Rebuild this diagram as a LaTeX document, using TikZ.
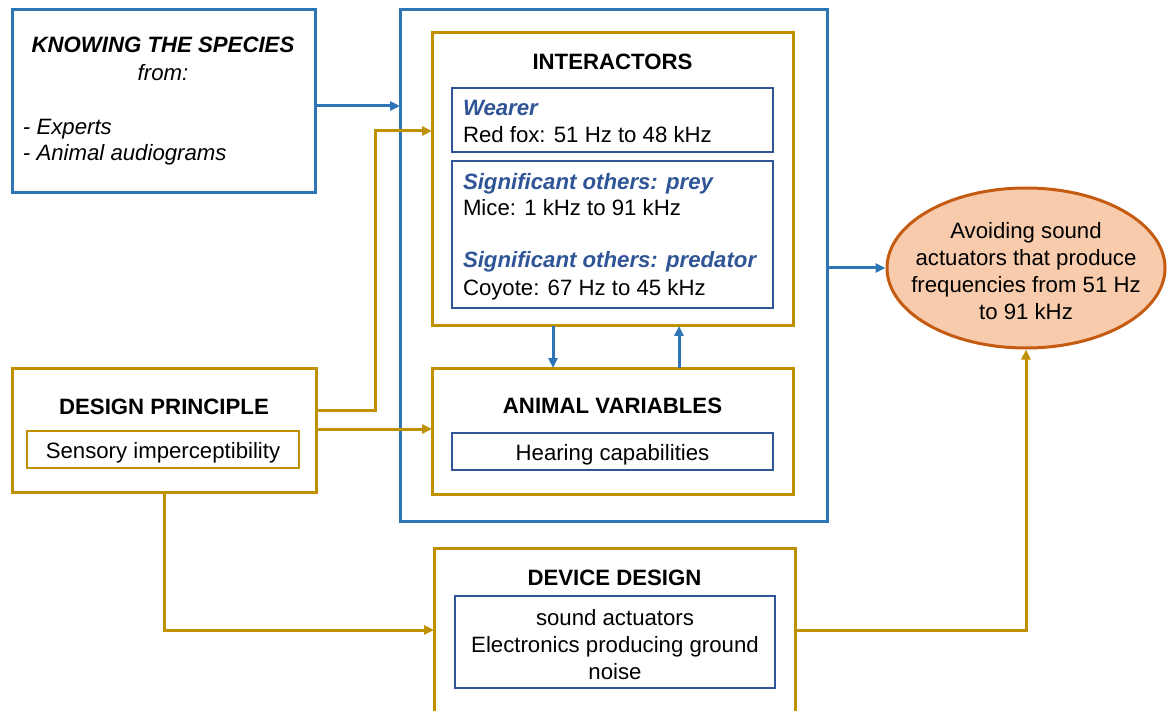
\documentclass[tikz,border=0pt]{standalone}
\usepackage{fontspec}
\setmainfont{Liberation Sans}
\usetikzlibrary{arrows.meta,shapes.geometric}
\definecolor{cblue}{HTML}{2E75B6}
\definecolor{cgold}{HTML}{BF9000}
\definecolor{cdblue}{HTML}{2F5597}
\definecolor{cpeach}{HTML}{F8CBAD}
\definecolor{corange}{HTML}{C55A11}
\newcommand{\fsz}{\fontsize{22.2}{27}\selectfont}
\begin{document}
\begin{tikzpicture}[x=1pt,y=-1pt,
  box/.style={rectangle, inner sep=0pt, outer sep=0pt},
  bluebox/.style={box, draw=cblue, line width=3pt},
  goldbox/.style={box, draw=cgold, line width=3pt},
  innerbox/.style={box, draw=cdblue, line width=1.2pt, align=center, font=\fsz, text height=20pt, text depth=1.6pt},
  txt/.style={inner sep=0pt, outer sep=0pt, font=\fsz},
  ttl/.style={txt, font=\fsz\bfseries},
  sub/.style={txt, text=cdblue, font=\fsz\bfseries\itshape},
  barrow/.style={draw=cblue, line width=3pt, -{Triangle[length=10pt,width=9pt]}},
  garrow/.style={draw=cgold, line width=3pt, -{Triangle[length=10pt,width=9pt]}}
]
\useasboundingbox (0,0) rectangle (1170,711);

% boxes
\node[bluebox, minimum width=303pt, minimum height=183pt] (know) at (163.5,101.5) {};
\node[bluebox, minimum width=427pt, minimum height=511pt] (big) at (613.5,265.5) {};
\node[goldbox, minimum width=361pt, minimum height=293pt] (inter) at (612.5,179.5) {};
\node[innerbox, minimum width=321pt, minimum height=64pt] (wear) at (612.5,120) {};
\node[innerbox, minimum width=321pt, minimum height=147pt] (sig) at (612.5,234.5) {};
\node[goldbox, minimum width=361pt, minimum height=126pt] (animal) at (612.5,431) {};
\node[innerbox, minimum width=321pt, minimum height=37pt] (hear) at (612.5,451.5) {Hearing capabilities};
\node[goldbox, minimum width=304pt, minimum height=124pt] (design) at (164,430) {};
\node[innerbox, draw=cgold, minimum width=272pt, minimum height=37pt] (sens) at (163,449.5) {Sensory imperceptibility};
\node[goldbox, minimum width=361pt, minimum height=164pt] (device) at (614.5,630) {};
\node[box, draw=cdblue, line width=1.2pt, minimum width=320pt, minimum height=92pt] (devin) at (615,642) {};
\node[txt, align=center] (devtxt) at (615,644.5) {sound actuators\\Electronics producing ground\\noise};
\node[ellipse, draw=corange, fill=cpeach, line width=3pt, inner sep=0pt,
      minimum width=278pt, minimum height=160pt] (ell) at (1026,268) {};
\node[txt, align=center] (elltxt) at (1026,271)
      {Avoiding sound\\actuators that produce\\frequencies from 51 Hz\\to 91 kHz};

% texts
\node[txt, anchor=base, font=\fsz\bfseries\itshape] (k1) at (163,52.7) {KNOWING THE SPECIES};
\node[txt, anchor=base, font=\fsz\itshape] (k2) at (163,80.5) {from:};
\node[txt, anchor=base west, font=\fsz\itshape] (k3) at (23,134.5) {- Experts};
\node[txt, anchor=base west, font=\fsz\itshape] (k4) at (23,160.5) {- Animal audiograms};

\node[ttl, anchor=base] (t1) at (612.5,69.5) {INTERACTORS};
\node[sub, anchor=base west] (w1) at (463,115.5) {Wearer};
\node[txt, anchor=base west] (w2) at (463,142.5) {Red fox: 51 Hz to 48 kHz};
\node[sub, anchor=base west] (s1) at (463,189.5) {Significant others: prey};
\node[txt, anchor=base west] (s2) at (463,215.5) {Mice: 1 kHz to 91 kHz};
\node[sub, anchor=base west] (s3) at (463,267.5) {Significant others: predator};
\node[txt, anchor=base west] (s4) at (463,295.5) {Coyote: 67 Hz to 45 kHz};
\node[ttl, anchor=base] (t2) at (612.5,413.5) {ANIMAL VARIABLES};
\node[ttl, anchor=base] (t3) at (164,414.5) {DESIGN PRINCIPLE};
\node[ttl, anchor=base] (t4) at (614.5,585.5) {DEVICE DESIGN};

% connectors
\draw[barrow] (know.east |- 0,106) -- (big.west |- 0,106);
\draw[garrow] (design.east |- 0,410) -- (375,410) -- (375,131) -- (inter.west |- 0,131);
\draw[garrow] (design.east |- 0,429) -- (animal.west |- 0,429);
\draw[garrow] (design.south -| 164,0) -- (164,630) -- (device.west |- 0,630);
\draw[garrow] (device.east |- 0,630) -| (ell.south);
\draw[barrow] (inter.south -| 553,0) -- (animal.north -| 553,0);
\draw[barrow] (animal.north -| 679,0) -- (inter.south -| 679,0);
\draw[barrow] (big.east |- ell.west) -- (ell.west);
\end{tikzpicture}
\end{document}
